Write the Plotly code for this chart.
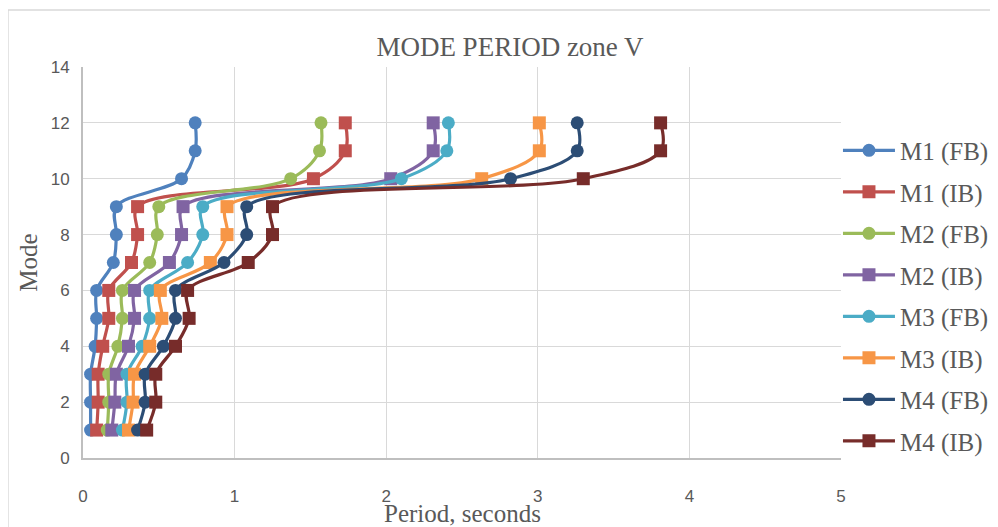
import plotly.graph_objects as go

modes = [1, 2, 3, 4, 5, 6, 7, 8, 9, 10, 11, 12]

m1_fb = [0.05, 0.05, 0.05, 0.08, 0.09, 0.09, 0.20, 0.22, 0.22, 0.65, 0.74, 0.74]
m1_ib = [0.09, 0.10, 0.10, 0.13, 0.17, 0.17, 0.32, 0.36, 0.36, 1.52, 1.73, 1.73]
m2_fb = [0.16, 0.17, 0.17, 0.23, 0.26, 0.26, 0.44, 0.49, 0.50, 1.37, 1.56, 1.57]
m2_ib = [0.19, 0.21, 0.22, 0.30, 0.34, 0.34, 0.57, 0.65, 0.66, 2.03, 2.31, 2.31]
m3_fb = [0.26, 0.29, 0.29, 0.39, 0.44, 0.44, 0.69, 0.79, 0.79, 2.10, 2.40, 2.41]
m3_ib = [0.30, 0.33, 0.34, 0.44, 0.52, 0.51, 0.84, 0.95, 0.95, 2.63, 3.01, 3.01]
m4_fb = [0.36, 0.41, 0.41, 0.53, 0.61, 0.61, 0.93, 1.08, 1.08, 2.82, 3.26, 3.26]
m4_ib = [0.42, 0.48, 0.48, 0.61, 0.70, 0.69, 1.09, 1.25, 1.25, 3.30, 3.81, 3.81]

names = ["M1 (FB)", "M1 (IB)", "M2 (FB)", "M2 (IB)", "M3 (FB)", "M3 (IB)", "M4 (FB)", "M4 (IB)"]
series = [m1_fb, m1_ib, m2_fb, m2_ib, m3_fb, m3_ib, m4_fb, m4_ib]
colors = ["#4F81BD", "#C0504D", "#9BBB59", "#8064A2", "#4BACC6", "#F79646", "#2C4D75", "#772C2A"]
symbols = ["circle", "square", "circle", "square", "circle", "square", "circle", "square"]

x_ticks = [0, 1, 2, 3, 4, 5]
y_ticks = [0, 2, 4, 6, 8, 10, 12, 14]

fig = go.Figure()
for name, vals, col, sym in zip(names, series, colors, symbols):
    fig.add_trace(go.Scatter(
        x=vals, y=modes, name=name, mode="lines+markers",
        line=dict(color=col, width=3.2, shape="spline", smoothing=1),
        marker=dict(color=col, size=13, symbol=sym),
        legendgroup=name,
    ))

grid = "#D9D9D9"
txt = "#595959"
W, H = 990, 519
fig.update_layout(
    width=W, height=H,
    margin=dict(l=75, r=157, t=59, b=69, autoexpand=False),
    paper_bgcolor="white", plot_bgcolor="white",
    title=dict(text="MODE PERIOD zone V", x=502 / W, xref="container", xanchor="center",
               y=1 - 39 / H, yref="container", yanchor="middle",
               font=dict(family="Liberation Serif", size=27, color=txt)),
    xaxis=dict(range=[0, 5], tickvals=x_ticks, showgrid=True, gridcolor=grid, gridwidth=1,
               zeroline=False, showline=True, linecolor="#BFBFBF", linewidth=2,
               ticks="", tickfont=dict(family="Liberation Sans", size=17, color=txt),
               ticklabelstandoff=22, automargin=False),
    yaxis=dict(range=[0, 14], tickvals=y_ticks, showgrid=True, gridcolor=grid, gridwidth=1,
               zeroline=False, showline=True, linecolor="#BFBFBF", linewidth=2,
               ticks="", tickfont=dict(family="Liberation Sans", size=17, color=txt),
               ticklabelstandoff=8, automargin=False,
               title=dict(text="Mode", standoff=6,
                          font=dict(family="Liberation Serif", size=25, color=txt))),
    legend=dict(x=0.996, xanchor="left", y=0.845, yanchor="top",
                font=dict(family="Liberation Serif", size=25, color=txt),
                tracegroupgap=6, itemwidth=52, bgcolor="rgba(0,0,0,0)"),
    annotations=[dict(text="Period, seconds", xref="paper", yref="paper",
                      x=0.5, y=(458 - 513) / 391, xanchor="center", yanchor="middle",
                      showarrow=False,
                      font=dict(family="Liberation Serif", size=25, color=txt))],
    shapes=[dict(type="rect", xref="paper", yref="paper",
                 x0=-0.099, x1=1.4, y0=-0.4, y1=1.146,
                 line=dict(color="#D9D9D9", width=1.5), layer="below")],
)

fig.write_html("out.html")
